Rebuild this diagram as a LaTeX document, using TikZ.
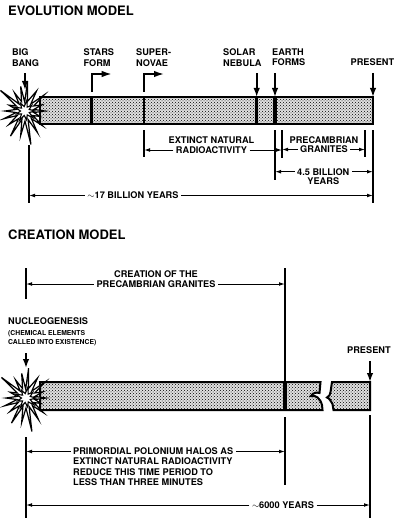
\documentclass[tikz,border=0pt]{standalone}
\usepackage{fontspec}
\setmainfont{TeX Gyre Heros}
\usepackage{tikz}
\usetikzlibrary{positioning,arrows.meta,patterns}

\begin{document}
\begin{tikzpicture}[x=1pt, y=-1pt,
  heading/.style={font=\fontsize{13}{15}\selectfont\bfseries, inner sep=0pt, anchor=north west},
  lbl/.style={font=\fontsize{9.2}{10.5}\selectfont\bfseries, inner sep=0pt, align=left, anchor=north west},
  smalllbl/.style={font=\fontsize{6.8}{9.3}\selectfont\bfseries, inner sep=0pt, align=left},
  dimtxt/.style={font=\fontsize{9.2}{10.5}\selectfont\bfseries, inner xsep=2.5pt, inner ysep=0pt},
  timebar/.style={draw, line width=2pt, pattern=crosshatch dots, pattern color=black, preaction={fill=black!12}},
  divider/.style={line width=2.6pt},
  downarrow/.style={line width=1.6pt, -{Latex[length=9pt, width=6.5pt]}, shorten <=7pt},
  bentarrow/.style={line width=1.6pt, -{Latex[length=10pt, width=6.5pt]}},
  tickline/.style={line width=1.6pt},
  dimline/.style={line width=1pt, -{Latex[length=6pt, width=3.8pt]}},
  bang/.pic={
    \draw[fill=white, line width=1.2pt, line join=miter] plot coordinates {(0:20) (10:9) (20:16) (30:9) (40:23) (50:10) (60:25) (70:9) (80:34) (90:10) (100:25) (110:9) (120:29) (130:10) (140:21) (150:9) (160:23) (170:9) (180:20) (190:9) (200:17) (210:10) (220:32) (230:9) (240:21) (250:10) (260:25) (268:9) (275:30) (285:10) (300:23) (310:9) (320:25) (330:10) (340:18) (350:9)} -- cycle;
    \draw[line width=1.1pt] plot coordinates {(0:10) (20:4.5) (40:11) (60:4.5) (80:9) (100:4.5) (120:11) (140:4.5) (160:9) (180:4.5) (200:11) (220:4.5) (240:9) (260:4.5) (280:11) (300:4.5) (320:9) (340:4.5)} -- cycle;
  }]
\useasboundingbox (0,0) rectangle (400,524);

% evolution model
\node[heading] (evo) at (8,6) {EVOLUTION MODEL};
\draw[timebar] (40,97) rectangle (373,124);
\foreach \x in {91.7,144,256.7} \draw[divider] (\x,97) -- (\x,124);
\draw[divider, line width=3.4pt] (275,97) -- (275,124);
\pic at (25,111) {bang};

\coordinate (bang1) at (25,90);
\coordinate (stars) at (91.7,97);
\coordinate (novae) at (144,97);
\coordinate (nebula) at (256.7,97);
\coordinate (earth) at (275,97);
\coordinate (now1) at (373,97);

\node[lbl] (bigbang) at (12,48.5) {BIG\\BANG};
\node[lbl] (starsform) at (83.5,48.5) {STARS\\FORM};
\node[lbl] (supernovae) at (136,48.5) {SUPER-\\NOVAE};
\node[lbl] (solar) at (223,48.5) {SOLAR\\NEBULA};
\node[lbl] (earthforms) at (272,48.5) {EARTH\\FORMS};
\node[lbl] (present1) at (350.5,58.5) {PRESENT};

\draw[downarrow] (bigbang.south -| bang1) -- (bang1);
\draw[downarrow] (solar.south -| nebula) -- (nebula);
\draw[downarrow] (earthforms.south -| earth) -- (earth);
\draw[downarrow] (present1.south -| now1) -- (now1);
\draw[bentarrow] ([yshift=5pt]stars) |- ++(20,-18);
\draw[bentarrow] ([yshift=5pt]novae) |- ++(20,-18);

\draw[tickline] (144,130) -- (144,157);
\draw[tickline] (282,130) -- (282,158);
\draw[tickline] (275,130) -- (275,180);
\draw[tickline] (365,130) -- (365,157);
\draw[tickline] (373,130) -- (373,203);
\draw[tickline] (29,145) -- (29,203);

\node[dimtxt] (radio) at (211.5,150) {RADIOACTIVITY};
\node[dimtxt, above=2.5pt of radio] (extinct) {EXTINCT NATURAL};
\coordinate (ext l) at (144,150);
\coordinate (ext r) at (282,150);
\draw[dimline] (radio) -- (ext l);
\draw[dimline] (radio) -- (ext r);

\node[dimtxt] (granites) at (324,149.5) {GRANITES};
\node[dimtxt, above=2.5pt of granites] (precamb) {PRECAMBRIAN};
\coordinate (gr l) at (282,149.5);
\coordinate (gr r) at (365,149.5);
\draw[dimline] (granites) -- (gr l);
\draw[dimline] (granites) -- (gr r);

\node[dimtxt] (billion) at (323.3,171.7) {4.5 BILLION};
\node[dimtxt, below=2.5pt of billion] (years1) {YEARS};
\coordinate (bil l) at (275,171.7);
\coordinate (bil r) at (373,171.7);
\draw[dimline] (billion) -- (bil l);
\draw[dimline] (billion) -- (bil r);

\node[dimtxt] (seventeen) at (133,195.5) {$\sim$17 BILLION YEARS};
\coordinate (age l) at (29,195.5);
\coordinate (age r) at (373,195.5);
\draw[dimline] (seventeen) -- (age l);
\draw[dimline] (seventeen) -- (age r);

% creation model
\node[heading] (cre) at (8,230) {CREATION MODEL};
\draw[tickline] (26,268) -- (26,299);
\draw[tickline] (285,268) -- (285,382);
\node[dimtxt] (granites2) at (156,284) {PRECAMBRIAN GRANITES};
\node[dimtxt, above=2.5pt of granites2] (creation) {CREATION OF THE};
\coordinate (cg l) at (26,284);
\coordinate (cg r) at (285,284);
\draw[dimline] (granites2) -- (cg l);
\draw[dimline] (granites2) -- (cg r);

\draw[timebar] (40,382) -- (320.5,382) -- (319.5,393)
  .. controls (316,392) and (313,393) .. (311,396)
  .. controls (316,395) and (320,398) .. (322,405) -- (322.5,410) -- (40,410) -- cycle;
\draw[timebar] (332,382) -- (370,382) -- (370,410) -- (333.5,410) -- (332.5,404)
  .. controls (331,401) and (329,398) .. (327,397.5)
  .. controls (329,396) and (330.5,395) .. (330.5,392) -- cycle;
\draw[divider, line width=3.2pt] (285,382) -- (285,410);
\pic at (26,398) {bang};

\node[lbl] (nucleo) at (8,317) {NUCLEOGENESIS};
\node[smalllbl, below right=6pt and 0pt of nucleo.south west] (elements) {(CHEMICAL ELEMENTS\\CALLED INTO EXISTENCE)};
\node[lbl] (present2) at (347,346.5) {PRESENT};
\coordinate (bang2) at (26,368);
\coordinate (now2) at (370,382);
\draw[downarrow] (elements.south -| bang2) -- (bang2);
\draw[downarrow] (present2.south -| now2) -- (now2);

\draw[tickline] (26,437) -- (26,518);
\draw[tickline] (285,417) -- (285,485);
\draw[tickline] (370,415) -- (370,518);
\node[dimtxt, anchor=west] (halos) at (70.5,451.5) {PRIMORDIAL POLONIUM HALOS AS};
\node[dimtxt, align=left, below right=2.5pt and 0pt of halos.south west] (reduce) {EXTINCT NATURAL RADIOACTIVITY\\REDUCE THIS TIME PERIOD TO\\LESS THAN THREE MINUTES};
\coordinate (hal l) at (26,451.5);
\coordinate (hal r) at (285,451.5);
\draw[dimline] (halos) -- (hal l);
\draw[dimline] (halos) -- (hal r);

\node[dimtxt] (sixk) at (283,505) {$\sim$6000 YEARS};
\coordinate (six l) at (26,505);
\coordinate (six r) at (370,505);
\draw[dimline] (sixk) -- (six l);
\draw[dimline] (sixk) -- (six r);
\end{tikzpicture}
\end{document}
